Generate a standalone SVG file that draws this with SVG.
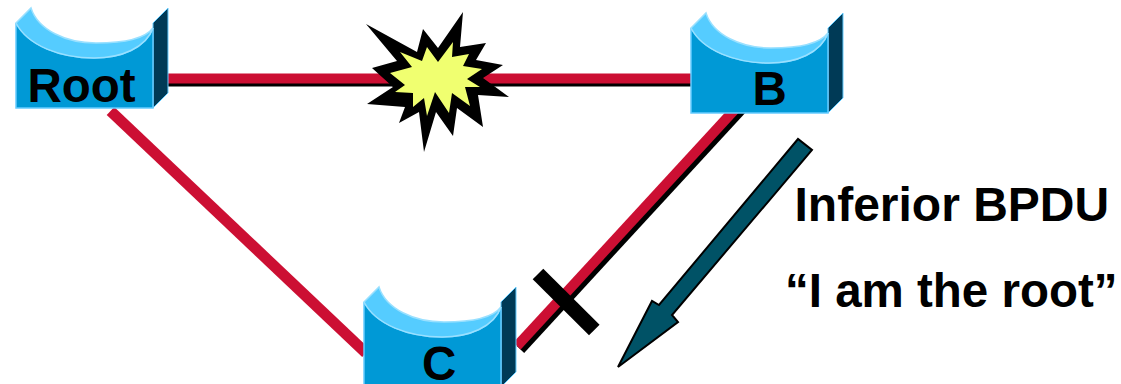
<svg xmlns="http://www.w3.org/2000/svg" width="1121" height="384" viewBox="0 0 1121 384">
<style>
.side{fill:#003a56;stroke:#66ccff;stroke-width:1}
.front{fill:#0099d6;stroke:#66ccff;stroke-width:1.5}
.top{fill:#55ccff;stroke:#99e0ff;stroke-width:1.5}
.t{font-family:"Liberation Sans",Arial,sans-serif;font-weight:bold;font-size:47.5px;fill:#000}
.red{stroke:#cc0f33;stroke-width:10;fill:none}
.blk{stroke:#000;stroke-width:10;fill:none}
</style>
<defs>
<g id="sw">
<path class="side" d="M137 15L152 0V85L137 100Z"/>
<path class="front" d="M0 15C12 38 45 50 78 50C105 50 130 40 137 20V100H0Z"/>
<path class="top" d="M0 15L15 0C22 22 50 35 80 35C105 35 128 32 137 20C130 40 105 50 78 50C45 50 12 38 0 15Z"/>
</g>
</defs>
<g id="connectors">
<path class="blk" d="M168 81.5H691"/>
<path class="red" d="M168 78.5H691"/>
<path class="red" style="stroke-width:11" d="M110.5 111L366 353"/>
<path class="blk" d="M741.5 109.5L520.5 349.5"/>
<path class="red" d="M738 106L517 346"/>
<path d="M538 274L594.3 330" stroke="#000" stroke-width="15" fill="none"/>
</g>
<g id="burst">
<path fill="#000" d="M366 24L417 52L423 29L438 48L463 12L460 47L486 43L476 60L503 65L483 78L509 97L478 95L483 127L457 108L453 136L436 112L424 152L419 112L399 123L405 107L367 104L393 87L372 68L397 61Z"/>
<path fill="#f0ff70" d="M400 52L422 61L427 47L438 62L453 42L452 57L469 54L463 66L482 69L467 79L480 87L465 87L470 106L452 93L449 113L435 92L427 116L424 98L413 107L413 93L395 92L405 85L390 73L412 67Z"/>
</g>
<g id="arrow">
<path fill="#005266" stroke="#000" stroke-width="2" d="M618 367L652 301L659 305L798 139L812 150L672 315L678 322Z"/>
</g>
<g id="node-root"><use href="#sw" x="16" y="8"/><text class="t" x="27.5" y="102">Root</text></g>
<g id="node-b"><use href="#sw" x="691" y="13"/><text class="t" x="752.5" y="105">B</text></g>
<g id="node-c"><use href="#sw" x="364" y="287"/><text class="t" x="422" y="380">C</text></g>
<g id="labels">
<text class="t" x="794.5" y="221" style="font-size:48px">Inferior BPDU</text>
<text class="t" x="785" y="307">“I am the root”</text>
</g>
</svg>
